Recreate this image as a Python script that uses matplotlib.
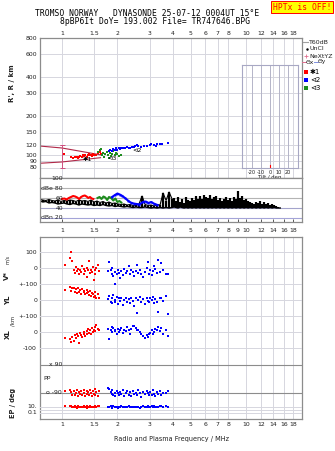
import matplotlib
matplotlib.use("Agg")
import matplotlib.pyplot as plt
from matplotlib.lines import Line2D
from matplotlib.ticker import NullLocator

W, H = 335, 451
FMIN, FMAX = 0.76, 20.1

FREQ_TICKS = [1, 1.5, 2, 3, 4, 5, 6, 7, 8, 10, 12, 14, 16, 18]
FREQ_TICKS_MID = [1, 1.5, 2, 3, 4, 5, 6, 7, 8, 9, 10, 12, 14, 16, 18]
HEIGHT_TICKS = [80, 90, 100, 120, 150, 200, 300, 400, 600, 800]
TILT_TICKS = [-20, -10, 0, 10, 20]

# virtual height traces (MHz, km)
HT_RED_F = [1.03, 1.12, 1.15, 1.18, 1.20, 1.22, 1.24, 1.26, 1.28, 1.30, 1.32, 1.34,
            1.36, 1.38, 1.40, 1.42, 1.44, 1.46, 1.48, 1.50, 1.53, 1.56, 1.60, 1.62]
HT_RED_H = [103, 97, 96, 98, 97, 96, 98, 99, 97, 100, 99, 101,
            98, 100, 102, 101, 100, 99, 102, 101, 100, 104, 106, 103]
HT_GRN_F = [1.57, 1.60, 1.63, 1.65, 1.68, 1.70, 1.72, 1.75, 1.78, 1.80, 1.83, 1.85,
            1.88, 1.90, 1.93, 1.96, 2.00, 2.05, 2.10]
HT_GRN_H = [106, 110, 112, 100, 104, 98, 103, 107, 101, 96, 104, 99,
            102, 108, 100, 105, 103, 99, 101]
HT_BLU_F = [1.80, 1.83, 1.86, 1.90, 1.93, 1.96, 2.00, 2.03, 2.06, 2.10, 2.15, 2.20,
            2.25, 2.30, 2.35, 2.40, 2.45, 2.50, 2.55, 2.60, 2.70, 2.80, 2.90, 3.00,
            3.05, 3.15, 3.25, 3.30, 3.40, 3.50, 3.77]
HT_BLU_H = [108, 111, 109, 112, 110, 113, 111, 114, 112, 115, 113, 114,
            116, 115, 114, 117, 116, 119, 121, 118, 117, 119, 118, 120,
            122, 121, 119, 122, 123, 122, 125]
TRACE_TAGS = [("✱1", 1.38, 93), ("⊲3", 1.87, 94), ("⊲2", 2.56, 110)]

# range spread of the first echo
SPREAD_F = [0.76, 1.0, 1.62]
SPREAD_TOP = [118, 114, 101]
SPREAD_BOT = [87, 89, 96]
SPREAD_BAR = (1.0, 80, 120)

# echo amplitude, dB
AMP_F = [0.759, 0.788, 0.818, 0.850, 0.882, 0.916, 0.951, 0.988, 1.025, 1.065,
         1.105, 1.148, 1.191, 1.237, 1.284, 1.334, 1.385, 1.438, 1.492, 1.550,
         1.609, 1.671, 1.735, 1.801, 1.870, 1.941, 2.015, 2.093, 2.173, 2.256,
         2.342, 2.432, 2.525, 2.621, 2.722, 2.826, 2.934, 3.046, 3.162, 3.283,
         3.409, 3.539, 3.675, 3.815, 3.961,
         4.062, 4.165, 4.270, 4.378, 4.489, 4.603, 4.720, 4.839, 4.962, 5.087,
         5.216, 5.348, 5.484, 5.623, 5.765, 5.911, 6.061, 6.215, 6.372, 6.534,
         6.699, 6.871, 7.044, 7.223, 7.406, 7.593, 7.786, 7.983, 8.185, 8.393,
         8.606, 8.824, 9.047, 9.277, 9.512, 9.752, 10.00, 10.25, 10.51, 10.78,
         11.05, 11.33, 11.62, 11.91, 12.22, 12.53, 12.84, 13.17, 13.50, 13.85,
         14.20, 14.56, 14.93, 15.31]
AMP_LO = [54, 52, 53, 50, 51, 50, 48, 49, 50, 48,
          47, 49, 48, 46, 48, 47, 46, 47, 45, 46,
          45, 47, 45, 44, 45, 43, 44, 43, 42, 43,
          42, 41, 42, 41, 41, 42, 41, 40, 41, 40,
          41, 40, 41, 40, 41,
          42, 41, 40, 42, 41, 40, 41, 40, 41, 40,
          41, 40, 41, 40, 41, 40, 41, 40, 41, 40,
          41, 40, 41, 40, 41, 40, 41, 40, 41, 40,
          41, 40, 41, 40, 41, 40, 41, 40, 41, 40,
          41, 40, 41, 40, 41, 40, 41, 40, 41, 40,
          41, 40, 40, 40]
AMP_HI = [57, 56, 55, 57, 55, 54, 56, 53, 55, 54,
          56, 55, 53, 56, 54, 55, 53, 56, 52, 54,
          51, 53, 50, 52, 49, 50, 48, 47, 48, 46,
          47, 45, 46, 48, 64, 47, 45, 46, 44, 47,
          46, 70, 55, 72, 58,
          60, 55, 63, 52, 58, 50, 62, 57, 54, 61,
          56, 64, 59, 65, 58, 67, 63, 60, 66, 58,
          62, 65, 57, 61, 55, 59, 62, 56, 60, 54,
          63, 58, 74, 60, 64, 57, 59, 54, 52, 50,
          48, 53, 51, 55, 49, 52, 48, 50, 47, 49,
          46, 44, 42, 41]
AMP_RED_F = [1.00, 1.03, 1.06, 1.09, 1.12, 1.15, 1.18, 1.21, 1.24, 1.27, 1.30, 1.33,
             1.36, 1.39, 1.42, 1.45, 1.48]
AMP_RED = [58, 59, 57, 60, 62, 64, 63, 61, 58, 62, 64, 65, 63, 60, 62, 59, 58]
AMP_GRN_F = [1.56, 1.60, 1.64, 1.68, 1.72, 1.76, 1.80, 1.85, 1.90, 1.95, 2.00, 2.05, 2.10]
AMP_GRN = [60, 62, 58, 63, 61, 56, 62, 60, 55, 59, 52, 54, 51]
AMP_BLU_F = [1.87, 1.94, 2.00, 2.06, 2.13, 2.20, 2.28, 2.36, 2.45, 2.54, 2.63, 2.75,
             2.85, 2.95, 3.05, 3.15, 3.30]
AMP_BLU = [62, 66, 69, 67, 64, 60, 55, 51, 49, 48, 47, 52, 53, 50, 52, 49, 46]

# echo parameters, shared frequencies per trace
RED_F = [1.04, 1.10, 1.12, 1.14, 1.16, 1.17, 1.19, 1.21, 1.22, 1.24, 1.26, 1.27, 1.29,
         1.31, 1.32, 1.34, 1.36, 1.37, 1.39, 1.41, 1.42, 1.44, 1.46, 1.47, 1.49, 1.51,
         1.52, 1.54, 1.56, 1.58]
RED_VS = [20, 60, 98, 45, -15, -30, 5, -20, -5, -35, -10, -25, 10, -5, -40, -20, 0, -55,
          -15, 45, -30, -10, -25, 5, -75, -15, -35, 0, 20, -20]
RED_YL = [62, 80, 55, 72, 78, 50, 68, 45, 74, 52, 65, 40, 70, 48, 58, 35, 62, 42, 50, 30,
          55, 25, 45, 38, 20, 48, 28, 15, 35, 12]
RED_XL = [-38, -45, -60, -30, -55, -20, -35, -10, -25, -69, -5, -20, -30, 0, -15, -25, 5,
          -10, 20, -5, 10, -15, 25, 0, 15, 30, 5, 45, 20, 10]
RED_PP = [-75, -70, -85, -100, -78, -105, -90, -72, -110, -85, -95, -80, -102, -68, -88,
          -112, -76, -95, -82, -105, -70, -90, -108, -78, -96, -65, -100, -84, -110, -74]
RED_EP = [20, 30, 15, 10, 8, 25, 12, 6, 18, 10, 9, 14, 7, 20, 11, 8, 16, 6, 12, 10, 22,
          9, 7, 13, 8, 11, 18, 10, 25, 15]

BLUE_F = [1.78, 1.81, 1.84, 1.86, 1.88, 1.90, 1.93, 1.95, 1.98, 2.01, 2.04, 2.07, 2.10,
          2.14, 2.18, 2.22, 2.26, 2.30, 2.34, 2.38, 2.42, 2.47, 2.51, 2.56, 2.60, 2.65,
          2.70, 2.76, 2.82, 2.88, 2.93, 2.98, 3.02, 3.07, 3.12, 3.17, 3.22, 3.28, 3.34,
          3.40, 3.47, 3.55, 3.65, 3.77]
BLUE_VS = [-20, 35, -10, -35, 0, -50, -25, -100, -40, -15, -30, -60, -20, -45, -5, -30,
           -20, 10, -35, -15, -25, -50, -20, 20, -30, -10, -40, -55, -25, 0, 40, -35,
           -15, -45, -20, 15, -5, -30, 50, -25, 30, -10, -35, -37]
BLUE_YL = [5, 25, -10, 15, -20, 30, 0, -15, 20, -25, 10, -5, 15, -30, 0, 10, -10, 5,
           -20, 15, -5, -40, 10, -79, 0, 20, -15, 5, -25, 10, -5, -10, 15, 0, 20, -20,
           5, -15, -75, 10, 15, -5, 25, -87]
BLUE_XL = [20, -44, 10, 30, 0, 25, 5, 15, -10, 20, 0, 10, 25, -5, 15, 5, 30, 10, -15,
           20, 35, 40, 25, 15, 10, 0, -10, -25, -35, -20, -30, -10, -5, 15, -15, 0, 20,
           10, 31, 5, 25, -10, 15, -23]
BLUE_PP = [-60, -65, -85, -95, -70, -100, -88, -110, -78, -92, -105, -84, -96, -72,
           -108, -90, -80, -100, -86, -112, -75, -95, -88, -104, -70, -92, -115, -82,
           -98, -76, -90, -106, -84, -100, -72, -94, -110, -86, -96, -80, -104, -90,
           -88, -80]
BLUE_EP = [12, 8, 15, 6, 10, 20, 7, 9, 14, 6, 11, 8, 16, 10, 7, 12, 9, 18, 8, 11, 14, 7,
           10, 13, 9, 6, 12, 15, 8, 10, 20, 11, 9, 16, 13, 25, 10, 8, 12, 18, 22, 9, 15, 10]

RED, BLUE, GREEN = "#ff0000", "#0000ff", "#1e8c1e"
GRID = "#d6d6de"
FRAME = "#8c8c8c"
TXT = "#202020"
FS = 4.4

fig = plt.figure(figsize=(W / 100, H / 100), dpi=100)


def box(x0, y0, x1, y1):
    return [x0 / W, 1 - y1 / H, (x1 - x0) / W, (y1 - y0) / H]


def put(x, y, s, **kw):
    kw.setdefault("fontsize", FS)
    kw.setdefault("color", TXT)
    kw.setdefault("va", "center")
    fig.text(x / W, 1 - y / H, s, **kw)


def mark(x, y, **kw):
    fig.add_artist(Line2D([x / W], [1 - y / H], ls="none", **kw))


def seg(x0, x1, y, **kw):
    fig.add_artist(Line2D([x0 / W, x1 / W], [1 - y / H, 1 - y / H], **kw))


def ylab(a, v, s, x=37, **kw):
    a.text((x - 40) / 262, v, s, transform=a.get_yaxis_transform(),
           ha="right", va="center", fontsize=FS, color=TXT, zorder=6, **kw)


def freq_axis(a):
    a.set_xscale("log")
    a.set_xlim(FMIN, FMAX)
    a.xaxis.set_minor_locator(NullLocator())
    a.set_xticks(FREQ_TICKS)
    a.set_xticklabels([f"{t:g}" for t in FREQ_TICKS])
    for s in a.spines.values():
        s.set_color(FRAME)
        s.set_linewidth(0.9)


def dots(a, f, v, c, ms=1.7):
    a.plot(f, v, ls="none", marker="s", ms=ms, mew=0, color=c, clip_on=False)


# header
put(35, 13, "TROMSO NORWAY   DYNASONDE 25-07-12 0004UT 15°E",
    family="DejaVu Sans Mono", fontsize=5.8, color="black")
put(60, 21, "8pBP6It DoY= 193.002 File= TR747646.BPG",
    family="DejaVu Sans Mono", fontsize=5.8, color="black")
put(302, 7, "HPTx is OFF!", family="DejaVu Sans Mono", fontsize=5.8, color="red",
    ha="center", bbox=dict(facecolor="#ffff00", edgecolor="red", pad=0.9, lw=0.7))

# --- height panel
ax_h = fig.add_axes(box(40, 38, 302, 178))
freq_axis(ax_h)
ax_h.set_yscale("log")
ax_h.set_ylim(67, 800)
ax_h.yaxis.set_minor_locator(NullLocator())
ax_h.set_yticks(HEIGHT_TICKS)
ax_h.set_yticklabels([])
ax_h.xaxis.set_ticks_position("top")
ax_h.tick_params(length=0, labelsize=FS, pad=1.6, colors=TXT)
ax_h.grid(True, color=GRID, lw=0.7)
for v in HEIGHT_TICKS:
    ylab(ax_h, v, str(v))

ax_h.plot(SPREAD_F, SPREAD_TOP, color="#b02848", lw=0.8)
ax_h.plot(SPREAD_F, SPREAD_BOT, color="#b02848", lw=0.8)
bf, blo, bhi = SPREAD_BAR
ax_h.errorbar([bf], [blo], yerr=[[0], [bhi - blo]], color="#d05080", lw=0.7,
              capsize=1.8, capthick=0.7)
ax_h.plot([bf], [bhi], ls="none", marker="_", ms=3.5, mew=0.7, color="#d05080")
dots(ax_h, HT_RED_F, HT_RED_H, RED)
dots(ax_h, HT_GRN_F, HT_GRN_H, GREEN)
dots(ax_h, HT_BLU_F, HT_BLU_H, BLUE)
for tag, f, h in TRACE_TAGS:
    ax_h.text(f, h, tag, fontsize=4.6, ha="center", va="center", color="black")

# tilt inset
ax_t = fig.add_axes(box(242, 65, 298, 168))
ax_t.set_xlim(-31, 31)
ax_t.set_ylim(0, 1)
ax_t.set_yticks([])
ax_t.set_xticks(TILT_TICKS)
ax_t.set_xticklabels([str(t) for t in TILT_TICKS])
ax_t.tick_params(length=0, labelsize=3.6, pad=1.2, colors=TXT)
ax_t.grid(True, axis="x", color="#b4b4c8", lw=0.7)
ax_t.patch.set_alpha(0)
for s in ax_t.spines.values():
    s.set_color("#a8a8c4")
    s.set_linewidth(0.8)
ax_t.set_xlabel("Tilt / deg", fontsize=3.8, labelpad=0.5, color=TXT)
ax_t.plot([0, 0], [0, 0.03], color=RED, lw=0.8)

ax_h.text(-0.105, 0.68, "R', R / km", transform=ax_h.transAxes, rotation=90,
          fontsize=5, fontweight="bold", ha="center", va="center", color=TXT)

# legend column
seg(303, 308, 42, color="#a0a0a0", lw=0.8)
put(309, 42, "T60dB", fontsize=4.5)
mark(307, 49, marker=".", ms=1.5, color="black")
put(310, 49, "UnCl", fontsize=4.5)
mark(306, 56, marker="+", ms=3, mew=0.6, color="#e07090")
put(309, 56, "NeXtYZ", fontsize=4.5)
seg(302, 306, 62, color="#e07090", lw=0.7)
put(306, 62, "Θx", fontsize=4.3)
seg(314, 318, 62, color="#8090e0", lw=0.7)
put(318, 62, "Θy", fontsize=4.3)
for y, c, tag in [(72, RED, "✱1"), (80, BLUE, "⊲2"), (88, GREEN, "⊲3")]:
    mark(306, y, marker="s", ms=2.2, mew=0, color=c)
    put(310, y, tag, fontsize=5, color="black")

# --- amplitude panel
ax_a = fig.add_axes(box(40, 178, 302, 222))
freq_axis(ax_a)
ax_a.set_xticks(FREQ_TICKS_MID)
ax_a.set_xticklabels([f"{t:g}" for t in FREQ_TICKS_MID])
ax_a.set_ylim(12, 100)
ax_a.set_yticks([])
ax_a.tick_params(axis="x", direction="in", length=2.5, width=0.7, color="#555555",
                 labelsize=FS, pad=4.2, labelcolor=TXT)
for v, c in [(80, "#b4b4b4"), (60, "#b4b4b4"), (40, "#a4a4cc"), (20, "#a4a4d8")]:
    ax_a.axhline(v, color=c, lw=0.8, zorder=0)
ax_a.vlines(AMP_F, AMP_LO, AMP_HI, color="black", lw=1.6)
ax_a.plot(AMP_F, AMP_LO, color="black", lw=1.0)
ax_a.plot(AMP_F[:45], AMP_HI[:45], color="black", lw=0.8)
ax_a.plot(AMP_RED_F, AMP_RED, color=RED, lw=1.5)
ax_a.plot(AMP_GRN_F, AMP_GRN, color=GREEN, lw=1.5)
ax_a.plot(AMP_BLU_F, AMP_BLU, color=BLUE, lw=1.5, marker="s", ms=1.4, mew=0)
for v, s in [(100, "100"), (80, "dBe 80"), (60, "60"), (40, "40"), (20, "dBn 20")]:
    ylab(ax_a, v, s, x=63)

# --- echo parameter panel
ax_b = fig.add_axes(box(40, 237, 302, 419))
freq_axis(ax_b)
ax_b.set_ylim(0, 1)
ax_b.set_yticks([])
ax_b.tick_params(length=0, labelsize=FS, pad=1.8, colors=TXT)
ax_b.grid(True, axis="x", color=GRID, lw=0.7)
ax_b.set_xlabel("Radio and Plasma Frequency / MHz", fontsize=4.7, color=TXT, labelpad=7)


def strip(y0, y1, lo, hi, log=False):
    a = fig.add_axes(box(40, y0, 302, y1))
    a.set_xscale("log")
    if log:
        a.set_yscale("log")
    a.set_xlim(FMIN, FMAX)
    a.set_ylim(lo, hi)
    a.axis("off")
    return a


ax_v = strip(237, 292, -150, 193.75)
ax_yl = strip(292, 324, -150, 50)
ax_xl = strip(324, 360, -175, 50)
ax_pp = strip(360, 400, -135, 122.14)
ax_ep = strip(400, 419, 1e-3, 10 ** (10 / 3), log=True)

for a, vals in [(ax_v, [100, 0, -100]), (ax_yl, [0, -100]), (ax_xl, [0, -100]),
                (ax_ep, [10, 1, 0.1])]:
    for v in vals:
        a.axhline(v, color=GRID, lw=0.7, zorder=0)
for v in [90, -90]:
    ax_pp.axhline(v, color="#8c8c8c", lw=0.8, zorder=0)

ylab(ax_v, 100, "100")
ylab(ax_v, 0, "0")
ylab(ax_v, -100, "+-100")
ylab(ax_yl, 0, "0")
ylab(ax_yl, -100, "+-100")
ylab(ax_xl, 0, "0")
ylab(ax_xl, -100, "-100")
ylab(ax_pp, 90, "x 90", x=62)
ylab(ax_pp, -90, "o -90", x=62)
ylab(ax_ep, 10, "10.")
ylab(ax_ep, 0.1, "0.1")
put(43, 379, "PP")

for a, rv, bv in [(ax_v, RED_VS, BLUE_VS), (ax_yl, RED_YL, BLUE_YL),
                  (ax_xl, RED_XL, BLUE_XL), (ax_pp, RED_PP, BLUE_PP),
                  (ax_ep, RED_EP, BLUE_EP)]:
    dots(a, RED_F, rv, RED)
    dots(a, BLUE_F, bv, BLUE)

put(7, 275, "V*", rotation=90, ha="center", fontsize=5, fontweight="bold")
put(7, 260, "m/s", rotation=90, ha="center", fontsize=3.6)
put(8, 300, "YL", rotation=90, ha="center", fontsize=5, fontweight="bold")
put(13, 321, "/km", rotation=90, ha="center", fontsize=3.8)
put(8, 334, "XL", rotation=90, ha="center", fontsize=5, fontweight="bold")
put(13, 403, "EP / deg", rotation=90, ha="center", fontsize=4.8, fontweight="bold")

fig.savefig("out.png", dpi=100)
